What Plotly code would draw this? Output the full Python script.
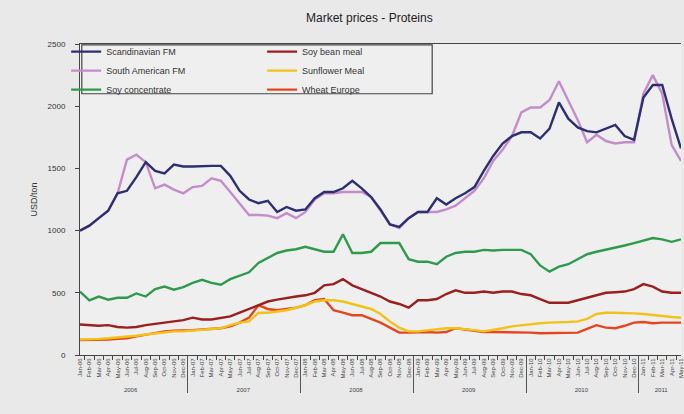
import plotly.graph_objects as go

# ── Data (USD/ton, monthly Jan 2006 – May 2011) ──────────────────────────────
YEARS = ["2006", "2007", "2008", "2009", "2010", "2011"]
MONTHS = ["Jan", "Feb", "Mar", "Apr", "May", "Jun",
          "Jul", "Aug", "Sep", "Oct", "Nov", "Dec"]
N_MONTHS = 65

scandinavian_fm = [
    1000, 1040, 1100, 1160, 1300, 1320, 1430, 1550, 1480, 1460, 1530, 1515,
    1515, 1520, 1520, 1520, 1440, 1320, 1250, 1220, 1240, 1150, 1190, 1160,
    1170, 1260, 1310, 1310, 1340, 1400, 1340, 1270, 1170, 1050, 1030, 1100,
    1150, 1150, 1260, 1210, 1260, 1300, 1350, 1480, 1600, 1700, 1760, 1790,
    1790, 1740, 1820, 2030, 1900, 1830, 1800, 1790, 1820, 1850, 1760, 1730,
    2070, 2170, 2170, 1900, 1660,
]
south_american_fm = [
    1000, 1040, 1100, 1160, 1300, 1570, 1610, 1550, 1340, 1370, 1330, 1300,
    1350, 1360, 1420, 1400, 1310, 1220, 1126, 1126, 1120, 1100, 1140, 1100,
    1150, 1250, 1300, 1300, 1310, 1310, 1310, 1270, 1160, 1050, 1020, 1100,
    1150, 1150, 1150, 1170, 1200, 1260, 1320, 1420, 1560, 1650, 1760, 1950,
    1990, 1990, 2050, 2200, 2050, 1890, 1710, 1770, 1720, 1700, 1710, 1710,
    2100, 2250, 2100, 1690, 1560,
]
soy_concentrate = [
    510, 440, 470, 445, 460, 460, 495, 470, 530, 550, 525, 545,
    580, 605, 580, 565, 610, 640, 665, 740, 780, 820, 840, 850,
    870, 850, 830, 830, 970, 820, 820, 830, 900, 900, 900, 770,
    750, 750, 730, 790, 820, 830, 830, 845, 840, 845, 845, 845,
    810, 720, 670, 710, 730, 770, 810, 830, 845, 860, 880, 900,
    920, 940, 930, 910, 930,
]
soy_bean_meal = [
    245, 240, 235, 240, 225, 220, 225, 240, 250, 265, 270, 280,
    300, 285, 285, 295, 310, 340, 370, 400, 430, 445, 460, 470,
    480, 500, 560, 570, 610, 560, 530, 500, 470, 430, 410, 380,
    440, 440, 450, 490, 520, 500, 500, 510, 500, 510, 510, 490,
    480, 450, 420, 420, 420, 440, 460, 480, 500, 505, 510, 530,
    570, 550, 510, 500, 500,
]
sunflower_meal = [
    125, 125, 130, 135, 140, 150, 155, 165, 175, 185, 190, 190,
    195, 200, 205, 215, 240, 260, 270, 340, 340, 350, 360, 380,
    400, 430, 440, 440, 430, 410, 390, 370, 330, 270, 220, 190,
    190, 200, 210, 215, 215, 210, 200, 190, 200, 215, 230, 240,
    250, 255, 260, 260, 265, 270, 290, 330, 340, 340, 340, 335,
    330, 320, 310, 305, 300,
]
wheat_europe = [
    120, 120, 125, 125, 130, 135, 150, 165, 180, 190, 195, 195,
    200, 205, 210, 215, 230, 260, 300, 400, 370, 360, 370, 380,
    400, 440, 450, 360, 340, 320, 320, 290, 260, 220, 180, 180,
    185, 185, 180, 185, 215, 205, 200, 185, 185, 185, 185, 180,
    180, 175, 175, 175, 175, 180, 210, 240, 220, 215, 235, 260,
    265, 255, 260, 260, 260,
]

SERIES = [
    ("Scandinavian FM", scandinavian_fm, "#2c2f72", "legend"),
    ("South American FM", south_american_fm, "#c48dc9", "legend"),
    ("Soy concentrate", soy_concentrate, "#2f9a4c", "legend"),
    ("Soy bean meal", soy_bean_meal, "#9a1f1f", "legend2"),
    ("Sunflower Meal", sunflower_meal, "#f2c21b", "legend2"),
    ("Wheat Europe", wheat_europe, "#e5461e", "legend2"),
]

# multicategory x: [year, month label]
x_year = [YEARS[i // 12] for i in range(N_MONTHS)]
x_month = [f"{MONTHS[i % 12]}-{YEARS[i // 12][2:]}" for i in range(N_MONTHS)]

FONT = "Liberation Sans, Arial, sans-serif"

fig = go.Figure()
# draw order: lower series first so FM lines sit on top
for name, vals, color, leg in reversed(SERIES):
    fig.add_trace(go.Scatter(
        x=[x_year, x_month], y=vals, name=name, mode="lines",
        line=dict(color=color, width=2.4), legend=leg,
    ))

LEG = dict(yanchor="top", xanchor="left", y=1.022, bgcolor="rgba(0,0,0,0)",
           itemwidth=30, traceorder="normal", tracegroupgap=0,
           font=dict(size=9, color="#333"))

fig.update_layout(
    width=684, height=414,
    paper_bgcolor="#e9e9e9",
    plot_bgcolor="#efefef",
    font=dict(family=FONT, size=9, color="#333"),
    margin=dict(l=80, r=3, t=44, b=59),
    title=dict(text="Market prices - Proteins", x=0.54, xanchor="center",
               y=0.958, yanchor="middle",
               font=dict(size=12, color="#222", family=FONT)),
    legend=dict(LEG, x=-0.023),
    legend2=dict(LEG, x=0.303),
    shapes=[dict(type="rect", xref="paper", yref="paper",
                 x0=0.003, x1=0.586, y0=0.84, y1=0.997,
                 line=dict(color="#444", width=1.2))],
    showlegend=True,
)
fig.update_xaxes(
    type="multicategory", showline=True, linecolor="#444", linewidth=1,
    mirror=True, ticks="outside", ticklen=4, tickcolor="#444",
    tickangle=-90, tickfont=dict(size=6, color="#444"),
    showdividers=True, dividercolor="#555", dividerwidth=1,
    showgrid=False,
)
fig.update_yaxes(
    range=[0, 2500], dtick=500, showline=True, linecolor="#444", linewidth=1,
    ticks="outside", ticklen=4, tickcolor="#444", showgrid=False,
    zeroline=False, tickfont=dict(size=8, color="#333"), ticklabelstandoff=8,
    title=dict(text="USD/ton", font=dict(size=9, color="#333"), standoff=8),
)
# legends list traces in the order they appear; reorder via legendrank
for rank, (name, *_rest) in enumerate(SERIES):
    fig.update_traces(selector=dict(name=name), legendrank=rank)

# page has an 8px body margin by default; drop it so the figure sits at 0,0
fig.write_html("out.html", config={"displayModeBar": False},
               post_script="document.body.style.margin='0';")
